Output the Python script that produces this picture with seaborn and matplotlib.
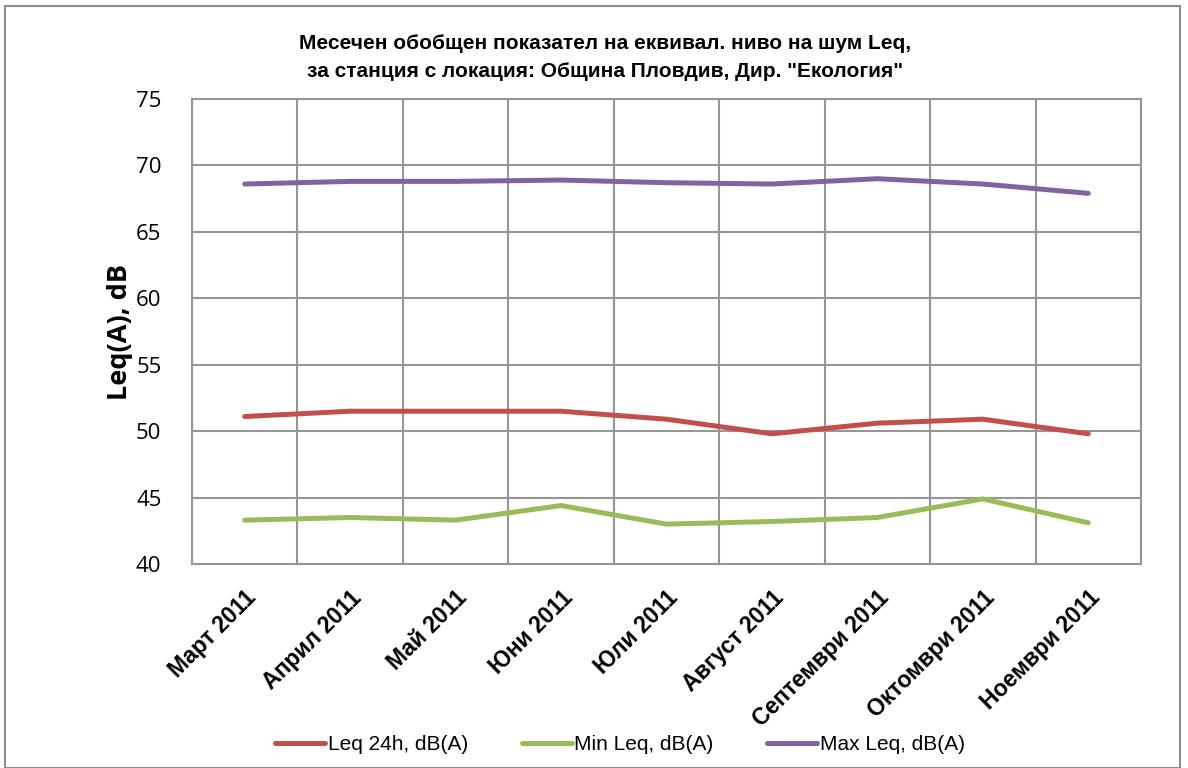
import matplotlib
matplotlib.use("Agg")
import matplotlib.pyplot as plt
import pandas as pd
import seaborn as sns
from matplotlib.patches import Rectangle

# Monthly values
months = ["Март 2011", "Април 2011", "Май 2011", "Юни 2011", "Юли 2011",
          "Август 2011", "Септември 2011", "Октомври 2011", "Ноември 2011"]
leq_24h = [51.1, 51.5, 51.5, 51.5, 50.9, 49.8, 50.6, 50.9, 49.8]
min_leq = [43.3, 43.5, 43.3, 44.4, 43.0, 43.2, 43.5, 44.9, 43.1]
max_leq = [68.6, 68.8, 68.8, 68.9, 68.7, 68.6, 69.0, 68.6, 67.9]

series_names = ["Leq 24h, dB(A)", "Min Leq, dB(A)", "Max Leq, dB(A)"]
colors = ["#C0504D", "#9BBB59", "#8064A2"]

df = pd.DataFrame({"month": months * 3,
                   "value": leq_24h + min_leq + max_leq,
                   "series": [s for s in series_names for _ in months]})
df["x"] = df.groupby("series").cumcount()

sns.set_style("white")
plt.rcParams["font.family"] = ["Open Sans", "DejaVu Sans"]
plt.rcParams["text.color"] = "black"
plt.rcParams["xtick.color"] = "black"
plt.rcParams["ytick.color"] = "black"
plt.rcParams["axes.labelcolor"] = "black"

fig = plt.figure(figsize=(11.88, 7.68), dpi=100)
ax = fig.add_axes([192 / 1188, 1 - 564 / 768, (1141 - 192) / 1188, (564 - 99) / 768])

sns.lineplot(data=df, x="x", y="value", hue="series", palette=colors,
             hue_order=series_names, linewidth=3.6, ax=ax, legend=False,
             solid_capstyle="round")

ax.set_xlim(-0.5, len(months) - 0.5)
ax.set_ylim(40, 75)
ax.set_yticks(range(40, 76, 5))
# category boundaries carry the grid, centres carry the labels
ax.set_xticks([i + 0.5 for i in range(-1, len(months))], minor=False)
ax.set_xticklabels([])
ax.set_xticks(range(len(months)), minor=True)
ax.set_xticklabels(months, minor=True, rotation=45, ha="right", va="top",
                   rotation_mode="anchor", fontsize=16.5, fontweight="bold",
                   family=["Liberation Sans", "DejaVu Sans"])
ax.tick_params(axis="x", which="both", length=0, pad=8)
ax.tick_params(axis="x", which="minor", pad=16)
ax.tick_params(axis="y", length=0, labelsize=16, pad=22)
ax.grid(True, which="major", color="#969696", linewidth=1.5)
for sp in ax.spines.values():
    sp.set_color("#969696")
    sp.set_linewidth(1.5)

ax.set_xlabel("")
ax.set_ylabel("Leq(A), dB", fontsize=19.5, fontweight="bold", labelpad=2)

fig.text(605 / 1188, 1 - 57.5 / 768,
         "Месечен обобщен показател на еквивал. ниво на шум Leq,\n"
         "за станция с локация: Община Пловдив, Дир. \"Екология\"",
         ha="center", va="center", fontsize=15, fontweight="bold",
         linespacing=1.65, family=["Liberation Sans", "DejaVu Sans"])

handles = [plt.Line2D([], [], color=c, linewidth=3.6, solid_capstyle="round") for c in colors]
fig.legend(handles, series_names, loc="center", bbox_to_anchor=(620 / 1188, 1 - 745 / 768),
           ncol=3, frameon=False, handlelength=2.4, handletextpad=0.1, columnspacing=2.6,
           prop={"family": ["Liberation Sans", "DejaVu Sans"], "size": 15})

fig.patches.append(Rectangle((5 / 1188, 0), 1175 / 1188, 1 - 6 / 768, transform=fig.transFigure,
                             fill=False, edgecolor="#8c8c8c", linewidth=1.5))

fig.savefig("out.png", dpi=100)
